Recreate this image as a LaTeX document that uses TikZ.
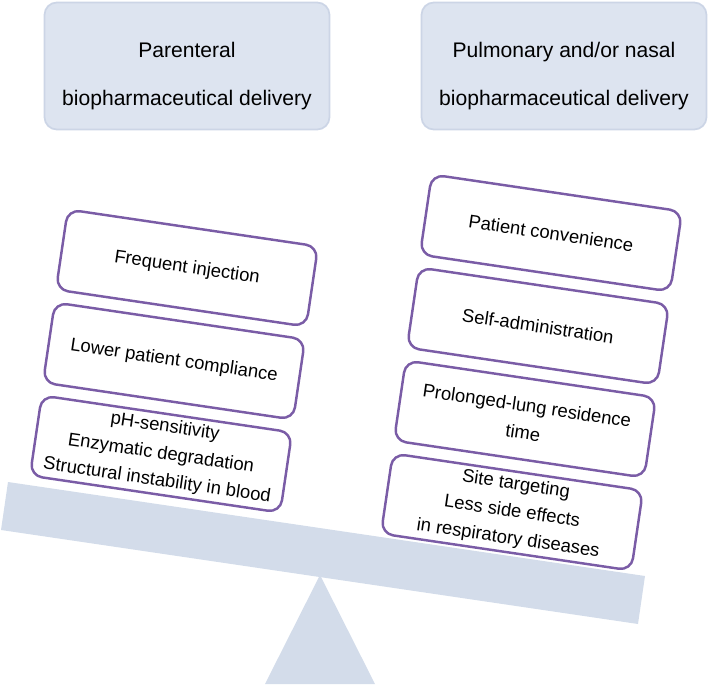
\documentclass[tikz,border=0pt]{standalone}
\usepackage{fontspec}
\setmainfont{Liberation Sans}
\usetikzlibrary{positioning}

\definecolor{hdrfill}{HTML}{DDE4F0}
\definecolor{hdrline}{HTML}{CCD5E6}
\definecolor{scalefill}{HTML}{D3DCEA}
\definecolor{boxline}{HTML}{7A5CA6}

\tikzset{
  header/.style={draw=hdrline, line width=1pt, fill=hdrfill, rounded corners=7pt,
    minimum width=5.7cm, minimum height=2.54cm, align=center,
    font=\fontsize{12}{27}\selectfont},
  weight/.style={draw=boxline, line width=1.4pt, fill=white, rounded corners=7pt,
    minimum width=5.06cm, minimum height=1.62cm, align=center, rotate=-8.4,
    inner sep=2pt, font=\fontsize{10.5}{15.5}\selectfont}
}

\begin{document}
\begin{tikzpicture}[x=0.02cm, y=-0.02cm]
    \useasboundingbox (0,0) rectangle (708,687);

    % headers
    \node[header] (par) at (187,66) {\rule{0pt}{20pt}Parenteral\\biopharmaceutical delivery};
    \node[header] (pul) at (564,66) {\rule{0pt}{20pt}Pulmonary and/or nasal\\biopharmaceutical delivery};

    % fulcrum and beam
    \fill[scalefill] (320,575) -- (375,684) -- (265,684) -- cycle;
    \fill[scalefill] (8,482) -- (645,576) -- (638,624) -- (1,530) -- cycle;

    % left pan
    \node[weight] (inj) at (187,268) {Frequent injection};
    \node[weight] (comp) at (174,361) {Lower patient compliance};
    \node[weight] (stab) at (161,454) {pH-sensitivity\\Enzymatic degradation\\Structural instability in blood};

    % right pan
    \node[weight] (conv) at (551,233) {Patient convenience};
    \node[weight] (self) at (538,326) {Self-administration};
    \node[weight] (res) at (525,419) {Prolonged-lung residence\\time};
    \node[weight] (site) at (512,512) {Site targeting\\Less side effects\\in respiratory diseases};
  \end{tikzpicture}
\end{document}
